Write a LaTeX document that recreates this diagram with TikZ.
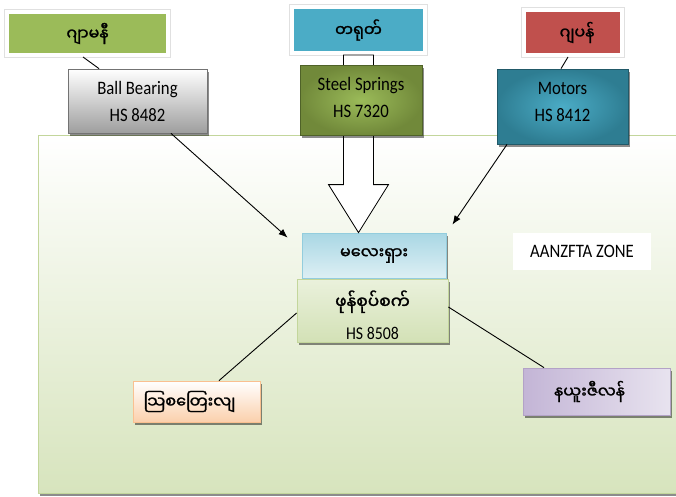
\documentclass[tikz,border=0pt]{standalone}
\usepackage{fontspec}
\setmainfont{Carlito}[FakeStretch=0.88]
\newfontfamily\mya[Script=Myanmar, FakeBold=1.5]{Noto Sans Myanmar UI}
\usetikzlibrary{shadows,calc,arrows.meta}
\definecolor{cgreen}{HTML}{9BBB59}
\definecolor{cblue}{HTML}{4BACC6}
\definecolor{cred}{HTML}{C0504D}
\definecolor{olivein}{HTML}{9BBB59}
\definecolor{oliveout}{HTML}{71893A}
\definecolor{olivedraw}{HTML}{4F6228}
\definecolor{tealin}{HTML}{4BACC6}
\definecolor{tealout}{HTML}{2E7D92}
\definecolor{tealdraw}{HTML}{215968}
\definecolor{zonegreen}{HTML}{D7E4BD}
\definecolor{zonedraw}{HTML}{C3D69B}
\definecolor{malaytop}{HTML}{A9D7E4}
\definecolor{malaybot}{HTML}{DDEFF4}
\definecolor{malaydraw}{HTML}{93CDDD}
\definecolor{vactop}{HTML}{EAF1DC}
\definecolor{vacbot}{HTML}{D3E1B6}
\definecolor{ausbot}{HTML}{FBD0AC}
\definecolor{ausdraw}{HTML}{FAC090}
\definecolor{nzleft}{HTML}{C3B5D6}
\definecolor{nzright}{HTML}{E8E3EF}
\definecolor{nzdraw}{HTML}{B3A2C7}
\tikzset{
  shad/.style={drop shadow={shadow xshift=2pt, shadow yshift=-3pt, fill=black, opacity=.45}},
  lightshad/.style={drop shadow={shadow xshift=2pt, shadow yshift=-3pt, fill=black, opacity=.25}},
  titlebox/.style={rectangle, draw=white, line width=4pt, inner sep=0pt, lightshad,
     preaction={draw=black!12, line width=5.5pt}, font=\mya\fontsize{16}{18}\selectfont},
  hsbox/.style={rectangle, line width=0.8pt, inner sep=0pt, align=center, shad, font=\fontsize{19}{27}\selectfont},
  mybox/.style={rectangle, line width=0.8pt, inner sep=0pt, align=center, shad, font=\mya\fontsize{16}{18}\selectfont},
  conn/.style={line width=0.9pt, black},
  arr/.style={conn, -{Latex[length=9pt,width=7pt]}},
}
\begin{document}
\begin{tikzpicture}[x=1pt,y=-1pt]
\useasboundingbox (0,0) rectangle (676,496);
\fill[white] (0,0) rectangle (676,496);
% zone
\node[rectangle, draw=zonedraw, line width=1pt, top color=white, bottom color=zonegreen, minimum width=662pt, minimum height=358pt, inner sep=0pt, shad] (zone) at (369,314) {};
% top country boxes
\node[titlebox, fill=cgreen, minimum width=161pt, minimum height=43pt] (germ) at (87.5,33.5) {ဂျာမနီ};
\node[titlebox, fill=cblue, minimum width=133pt, minimum height=46pt] (china) at (358.5,30) {\raisebox{2pt}{တရုတ်}};
\node[titlebox, fill=cred, minimum width=98pt, minimum height=45pt] (japan) at (573,32.5) {\hspace*{8pt}ဂျပန်};
% lower boxes
\node[mybox, draw=malaydraw, top color=malaytop, bottom color=malaybot, minimum width=144pt, minimum height=45pt] (malay) at (374,255.5) {မလေးရှား};
% block arrow from China
\coordinate (tip) at (malay.north -| china.south);
\draw[line width=0.8pt, fill=white] ($(china.south)+(-15,0)$) -- ($(china.south)+(15,0)$) -- ($(tip)+(15,-48)$) -- ($(tip)+(30,-48)$) -- (tip) -- ($(tip)+(-30,-48)$) -- ($(tip)+(-15,-48)$) -- cycle;
% product boxes
\node[hsbox, draw=black!55, top color=white, bottom color=black!38, minimum width=139pt, minimum height=64pt] (bb) at (137.5,101) {Ball Bearing\\HS 8482};
\node[hsbox, draw=olivedraw, inner color=olivein, outer color=oliveout, minimum width=122pt, minimum height=70pt] (ss) at (361,100) {Steel Springs\\HS 7320\\[-21pt]\mbox{}};
\node[hsbox, draw=tealdraw, inner color=tealin, outer color=tealout, minimum width=131pt, minimum height=75pt] (motors) at (562.5,106.5) {Motors\\HS 8412\\[-17pt]\mbox{}};
\node[rectangle, fill=white, inner sep=0pt, minimum width=138pt, minimum height=37pt, font=\fontsize{19}{22}\selectfont] (zonelabel) at (582,251.5) {AANZFTA ZONE};
\node[hsbox, draw=zonedraw, top color=vactop, bottom color=vacbot, minimum width=151pt, minimum height=63pt] (vac) at (372.5,310.5) {};
\node[align=center, inner sep=0pt, font=\fontsize{19}{27}\selectfont] (vactext) at ($(vac.center)+(0,4.5)$) {{\mya\fontsize{17}{18}\selectfont ဖုန်စုပ်စက်}\\[4pt]\fontsize{18}{20}\selectfont HS 8508};
\node[mybox, draw=ausdraw, top color=white, bottom color=ausbot, minimum width=127pt, minimum height=41pt] (aus) at (196.5,401.5) {\hspace*{-14pt}သြစတြေးလျ};
\node[mybox, draw=nzdraw, left color=nzleft, right color=nzright, minimum width=147pt, minimum height=47pt] (nz) at (596.5,391.5) {နယူးဇီလန်\hspace*{14pt}};
% connectors
\draw[conn] ($(germ.south)+(-4.5,0)$) -- ($(bb.north)+(-38.5,0)$);
\draw[conn] ($(japan.south)+(-5,0)$) -- ($(motors.north)+(-1.5,0)$);
\draw[arr] ($(bb.south)+(33.5,0)$) -- ($(malay.north west)+(-14,5)$);
\draw[arr] ($(motors.south)+(-55.5,0)$) -- ($(malay.north east)+(6,-8)$);
\draw[conn] ($(vac.west)+(0,2.5)$) -- ($(aus.north)+(22.5,0)$);
\draw[conn] ($(vac.east)+(0,-3.5)$) -- ($(nz.north)+(-52.5,0)$);
\end{tikzpicture}
\end{document}
